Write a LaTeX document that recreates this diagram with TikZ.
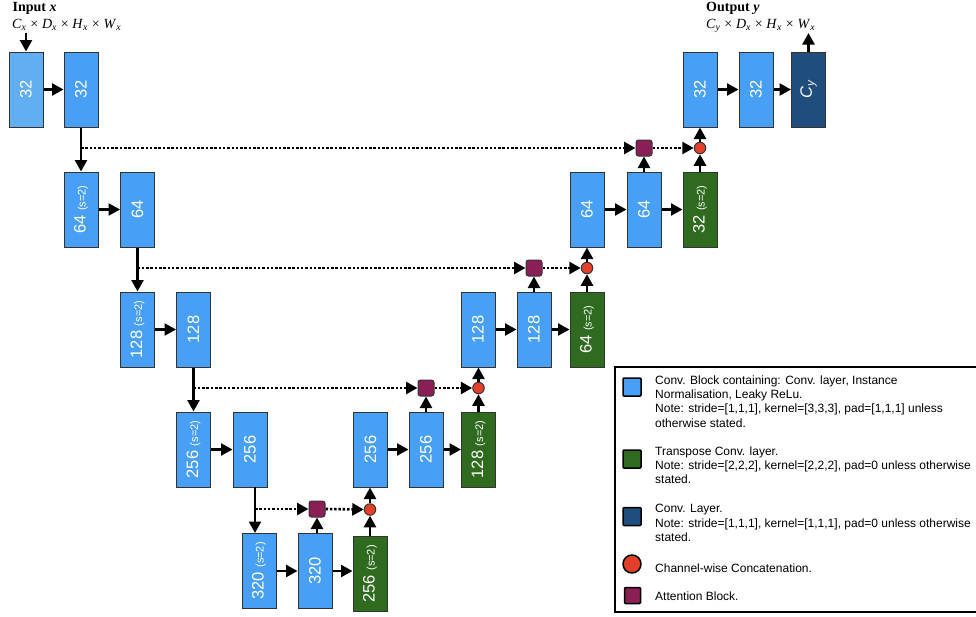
\documentclass[tikz,border=0pt]{standalone}
\usepackage{fontspec}
\setmainfont{Liberation Serif}
\setsansfont{Liberation Sans}
\usetikzlibrary{arrows.meta,calc}

\definecolor{blk}{HTML}{48A0F6}
\definecolor{blkin}{HTML}{62AEF2}
\definecolor{grn}{HTML}{2E6B1E}
\definecolor{dblue}{HTML}{1F4E7D}
\definecolor{purp}{HTML}{8A1F55}
\definecolor{redc}{HTML}{E3402B}
\definecolor{edgec}{HTML}{333333}

\newcommand{\sstwo}{\fontsize{11}{11}\selectfont(s=2)}
\newcommand{\tms}{\hspace{3.8pt}×\hspace{3.8pt}}

\begin{document}
\begin{tikzpicture}[x=1pt,y=-1pt,
  blockbase/.style={draw=edgec, line width=1pt, minimum width=34pt, minimum height=75pt, inner sep=0pt},
  lab/.style={rotate=90, text=white, font=\sffamily\fontsize{16.5}{16.5}\selectfont, inner sep=0pt},
  convb/.style={blockbase, fill=blk, label={[lab]center:#1}},
  convin/.style={blockbase, fill=blkin, label={[lab]center:#1}},
  trans/.style={blockbase, fill=grn, label={[lab]center:#1}},
  convl/.style={blockbase, fill=dblue, label={[lab]center:#1}},
  att/.style={draw=edgec, line width=1pt, fill=purp, rounded corners=2.5pt, minimum size=16pt, inner sep=0pt},
  cat/.style={circle, draw=edgec, line width=1pt, fill=redc, minimum size=11.5pt, inner sep=0pt},
  arr/.style={line width=2.4pt, -{Triangle[length=11.5pt,width=12pt]}},
  dotarr/.style={arr, line width=2.6pt, dash pattern=on 2.5pt off 1.8pt},
  legicon/.style={draw=black, line width=1.5pt, minimum size=18pt, inner sep=0pt, rounded corners=1pt},
  legtext/.style={anchor=north west, align=left, inner sep=0pt, font=\sffamily\fontsize{12}{14.3}\selectfont},
  title/.style={anchor=base west, inner sep=0pt, font=\fontsize{14}{14}\selectfont\bfseries},
  dims/.style={anchor=base west, inner sep=0pt, font=\fontsize{14}{14}\selectfont}
]
\useasboundingbox (0,0) rectangle (976,616);

% encoder
\node[convin=32] (e1a) at (26,89.5) {};
\node[convb=32] (e1b) at (81,89.5) {};
\node[convb={64 \sstwo}] (e2a) at (81,209.5) {};
\node[convb=64] (e2b) at (137.5,209.5) {};
\node[convb={128 \sstwo}] (e3a) at (137.5,329.5) {};
\node[convb=128] (e3b) at (193.5,329.5) {};
\node[convb={256 \sstwo}] (e4a) at (193.5,449.5) {};
\node[convb=256] (e4b) at (250,449.5) {};
\node[convb={320 \sstwo}] (e5a) at (259,571) {};
\node[convb=320] (e5b) at (315,571) {};

% decoder
\node[trans={256 \sstwo}] (d5) at (370,574) {};
\node[convb=256] (d4a) at (370.5,449.5) {};
\node[convb=256] (d4b) at (426,449.5) {};
\node[trans={128 \sstwo}] (d4g) at (478.5,449.5) {};
\node[convb=128] (d3a) at (478,329.5) {};
\node[convb=128] (d3b) at (534,329.5) {};
\node[trans={64 \sstwo}] (d3g) at (587,329.5) {};
\node[convb=64] (d2a) at (587,209.5) {};
\node[convb=64] (d2b) at (644,209.5) {};
\node[trans={32 \sstwo}] (d2g) at (700,209.5) {};
\node[convb=32] (d1a) at (700,89.5) {};
\node[convb=32] (d1b) at (756,89.5) {};
\node[convl={\textit{C}\textsubscript{\textit{y}}}] (d1c) at (808.5,89.5) {};

% attention and concatenation
\node[att] (a5) at (317,509) {};
\node[att] (a4) at (426,388) {};
\node[att] (a3) at (534,268) {};
\node[att] (a2) at (644,148) {};
\node[cat] (c5) at (370,509.5) {};
\node[cat] (c4) at (478.5,388) {};
\node[cat] (c3) at (587,268) {};
\node[cat] (c2) at (700,148) {};

% labels
\node[title] (tin) at (12.5,11) {Input \textit{x}};
\node[dims] (din) at (12,28) {\textit{C}\textsubscript{\textit{x}}\tms\textit{D}\textsubscript{\textit{x}}\tms\textit{H}\textsubscript{\textit{x}}\tms\textit{W}\textsubscript{\textit{x}}};
\node[title] (tout) at (706,11) {Output \textit{y}};
\node[dims] (dout) at (706,28) {\textit{C}\textsubscript{\textit{y}}\tms\textit{D}\textsubscript{\textit{x}}\tms\textit{H}\textsubscript{\textit{x}}\tms\textit{W}\textsubscript{\textit{x}}};
\coordinate (inp) at (26,33);
\coordinate (outp) at (808.5,33);
\coordinate (dr4) at (255,487);

% encoder arrows
\draw[arr] (inp) -- (e1a.north);
\draw[arr] (e1a.east) -- (e1b.west);
\draw[arr] (e1b.south) -- (e2a.north);
\draw[arr] (e2a.east) -- (e2b.west);
\draw[arr] (e2b.south) -- (e3a.north);
\draw[arr] (e3a.east) -- (e3b.west);
\draw[arr] (e3b.south) -- (e4a.north);
\draw[arr] (e4a.east) -- (e4b.west);
\draw[line width=2.4pt] (e4b.south -| dr4) -- (dr4);
\draw[arr] (dr4) -- (dr4 |- e5a.north);
\draw[arr] (e5a.east) -- (e5b.west);
\draw[arr] (e5b.east) -- (e5b.east -| d5.west);

% skip connections
\draw[dotarr] (e1b.south |- a2.west) -- (a2.west);
\draw[dotarr] (e2b.south |- a3.west) -- (a3.west);
\draw[dotarr] (e3b.south |- a4.west) -- (a4.west);
\draw[dotarr] (dr4 |- a5.west) -- (a5.west);
\draw[dotarr] (a2.east) -- (c2.west);
\draw[dotarr] (a3.east) -- (c3.west);
\draw[dotarr] (a4.east) -- (c4.west);
\draw[dotarr] (a5.east) -- (c5.west);

% gating arrows
\draw[arr] (a5.south |- e5b.north) -- (a5.south);
\draw[arr] (d4b.north) -- (a4.south);
\draw[arr] (d3b.north) -- (a3.south);
\draw[arr] (d2b.north) -- (a2.south);

% decoder arrows
\draw[arr] (d5.north) -- (c5.south);
\draw[arr] (c5.north) -- (c5.north |- d4a.south);
\draw[arr] (d4a.east) -- (d4b.west);
\draw[arr] (d4b.east) -- (d4g.west);
\draw[arr] (d4g.north) -- (c4.south);
\draw[arr] (c4.north) -- (c4.north |- d3a.south);
\draw[arr] (d3a.east) -- (d3b.west);
\draw[arr] (d3b.east) -- (d3g.west);
\draw[arr] (d3g.north) -- (c3.south);
\draw[arr] (c3.north) -- (d2a.south);
\draw[arr] (d2a.east) -- (d2b.west);
\draw[arr] (d2b.east) -- (d2g.west);
\draw[arr] (d2g.north) -- (c2.south);
\draw[arr] (c2.north) -- (d1a.south);
\draw[arr] (d1a.east) -- (d1b.west);
\draw[arr] (d1b.east) -- (d1c.west);
\draw[arr] (d1c.north) -- (outp);

% legend
\draw[line width=2.2pt] (615,367) rectangle (979,612);
\node[legicon, fill=blk] (l1) at (632,387) {};
\node[legicon, fill=grn] (l2) at (632,459) {};
\node[legicon, fill=dblue] (l3) at (632,516.5) {};
\node[circle, draw=black, line width=1.5pt, fill=redc, minimum size=18pt, inner sep=0pt] (l4) at (632,564) {};
\node[legicon, fill=purp, minimum size=16pt] (l5) at (632.5,595.5) {};
\node[legtext] (t1) at (655,375.3) {Conv. Block containing: Conv. layer, Instance\\Normalisation, Leaky ReLu.\\Note: stride=[1,1,1], kernel=[3,3,3], pad=[1,1,1] unless\\otherwise stated.};
\node[legtext] (t2) at (655,446.3) {Transpose Conv. layer.\\Note: stride=[2,2,2], kernel=[2,2,2], pad=0 unless otherwise\\stated.};
\node[legtext] (t3) at (655,504.3) {Conv. Layer.\\Note: stride=[1,1,1], kernel=[1,1,1], pad=0 unless otherwise\\stated.};
\node[legtext] (t4) at (655,563.3) {Channel-wise Concatenation.};
\node[legtext] (t5) at (655,591.3) {Attention Block.};
\end{tikzpicture}
\end{document}
